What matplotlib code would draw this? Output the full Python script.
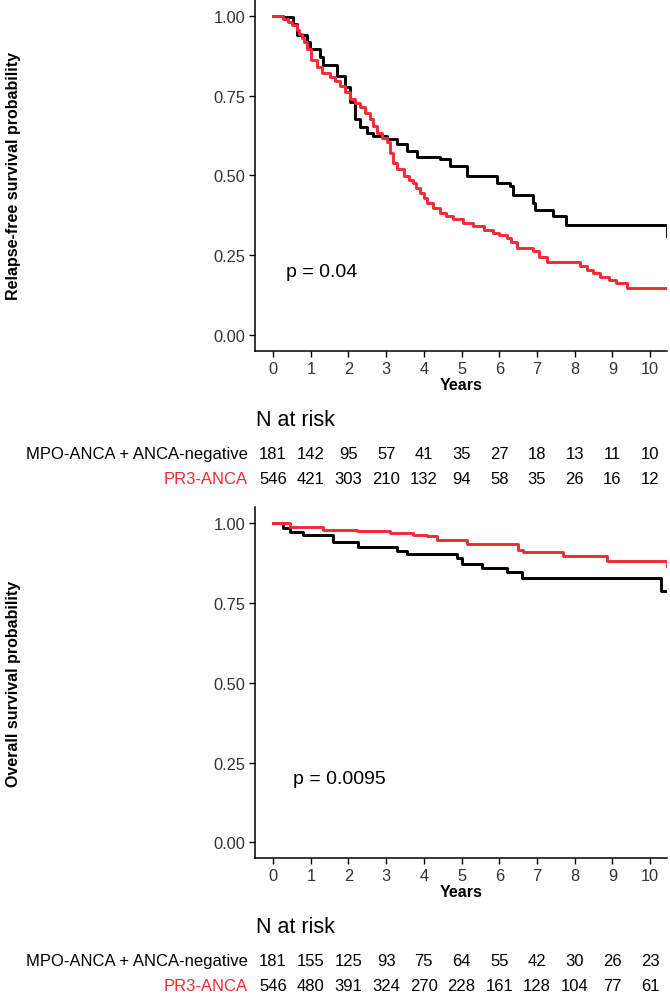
import matplotlib
matplotlib.use("Agg")
import matplotlib.pyplot as plt
import matplotlib.transforms as mtransforms

plt.rcParams['font.family'] = ['Liberation Sans', 'DejaVu Sans']

RED = '#F52A35'

# relapse-free survival
rfs_mpo_t = [0, 0.27, 0.54, 0.63, 0.89, 0.98, 1.25, 1.33, 1.69, 1.91, 2.04, 2.18, 2.31, 2.49,
             2.66, 3.02, 3.28, 3.55, 3.81, 4.43, 4.69, 5.14, 5.93, 6.29, 6.37, 6.9, 6.95,
             7.43, 7.77, 10.44]
rfs_mpo_s = [1.0, 0.995, 0.975, 0.94, 0.917, 0.896, 0.87, 0.844, 0.812, 0.776, 0.729, 0.676,
             0.65, 0.634, 0.624, 0.613, 0.597, 0.576, 0.556, 0.55, 0.529, 0.498, 0.477, 0.467,
             0.44, 0.414, 0.393, 0.372, 0.346, 0.309]
rfs_pr3_t = [0, 0.27, 0.4, 0.5, 0.63, 0.7, 0.76, 0.82, 0.89, 1.0, 1.16, 1.3, 1.51, 1.65, 1.78,
             1.9, 2.04, 2.18, 2.31, 2.45, 2.57, 2.66, 2.75, 2.9, 3.02, 3.1, 3.19, 3.3, 3.46,
             3.6, 3.72, 3.8, 3.9, 4.0, 4.08, 4.25, 4.43, 4.6, 4.78, 5.05, 5.31, 5.6, 5.84,
             6.0, 6.2, 6.3, 6.46, 6.9, 7.05, 7.26, 7.97, 8.15, 8.32, 8.5, 8.67, 8.9, 9.11,
             9.38, 10.44]
rfs_pr3_s = [1.0, 0.99, 0.98, 0.97, 0.955, 0.943, 0.93, 0.917, 0.895, 0.86, 0.838, 0.822,
             0.807, 0.795, 0.78, 0.76, 0.739, 0.727, 0.713, 0.695, 0.676, 0.655, 0.634, 0.618,
             0.603, 0.57, 0.54, 0.52, 0.498, 0.487, 0.477, 0.46, 0.446, 0.43, 0.414, 0.398,
             0.383, 0.372, 0.362, 0.352, 0.341, 0.33, 0.32, 0.312, 0.304, 0.29, 0.273, 0.262,
             0.245, 0.23, 0.23, 0.215, 0.204, 0.193, 0.183, 0.172, 0.162, 0.147, 0.147]

# overall survival
os_mpo_t = [0, 0.27, 0.45, 0.8, 1.6, 2.26, 3.28, 3.55, 4.87, 5.0, 5.53, 6.2, 6.6, 10.28, 10.45]
os_mpo_s = [1.0, 0.984, 0.974, 0.962, 0.943, 0.925, 0.912, 0.903, 0.89, 0.874, 0.861, 0.846,
            0.83, 0.788, 0.788]
os_pr3_t = [0, 0.45, 1.33, 2.22, 3.1, 3.72, 4.08, 4.34, 5.14, 6.51, 6.64, 7.7, 8.85, 10.44]
os_pr3_s = [1.0, 0.99, 0.98, 0.975, 0.969, 0.964, 0.959, 0.949, 0.935, 0.917, 0.91, 0.897,
            0.881, 0.865]

years = list(range(11))
groups = ['MPO-ANCA + ANCA-negative', 'PR3-ANCA']
rfs_risk_mpo = [181, 142, 95, 57, 41, 35, 27, 18, 13, 11, 10]
rfs_risk_pr3 = [546, 421, 303, 210, 132, 94, 58, 35, 26, 16, 12]
os_risk_mpo = [181, 155, 125, 93, 75, 64, 55, 42, 30, 26, 23]
os_risk_pr3 = [546, 480, 391, 324, 270, 228, 161, 128, 104, 77, 61]

fig = plt.figure(figsize=(6.7, 9.95), dpi=100)
W, H = 670, 995


def panel(top_px, bottom_px, ylabel, mpo, pr3, ptext, px, risk, table_y):
    ax = fig.add_axes([255 / W, 1 - bottom_px / H, 412 / W, (bottom_px - top_px) / H])
    ax.plot(mpo[0], mpo[1], drawstyle='steps-post', color='black', lw=2.1)
    ax.plot(pr3[0], pr3[1], drawstyle='steps-post', color=RED, lw=2.1)
    ax.set_xlim(-0.48, 10.45)
    ax.set_ylim(-0.05, 1.05)
    ax.set_xticks(years)
    ax.set_yticks([0, 0.25, 0.5, 0.75, 1.0])
    ax.set_yticklabels(['0.00', '0.25', '0.50', '0.75', '1.00'])
    for s in ['top', 'right']:
        ax.spines[s].set_visible(False)
    for s in ['left', 'bottom']:
        ax.spines[s].set_linewidth(1.1)
    ax.tick_params(labelsize=11.8, labelcolor='#333333', length=4.5, width=1, pad=2.5)
    ax.set_xlabel('Years', fontsize=11.5, fontweight='bold', labelpad=1)
    ax.set_ylabel(ylabel, fontsize=11.5, fontweight='bold')
    ax.yaxis.set_label_coords(-0.568, 0.5)
    ax.text(px, 0.2, ptext, fontsize=14, va='center', ha='left')

    tr = mtransforms.blended_transform_factory(ax.transData, fig.transFigure)
    fig.text(256 / W, 1 - table_y[0] / H, 'N at risk', fontsize=15.5, va='center', ha='left')
    for lab, col, row, y in zip(groups, ['black', RED], risk, table_y[1:]):
        fig.text(248 / W, 1 - y / H, lab, fontsize=12, color=col, va='center', ha='right')
        for x, n in zip(years, row):
            ax.text(x, 1 - y / H, str(n), transform=tr, fontsize=12, va='center',
                    ha='center')
    return ax


panel(0.7, 352, 'Relapse-free survival probability', (rfs_mpo_t, rfs_mpo_s),
      (rfs_pr3_t, rfs_pr3_s), 'p = 0.04', 0.34, [rfs_risk_mpo, rfs_risk_pr3],
      [420, 455, 479])
panel(508.4, 859.3, 'Overall survival probability', (os_mpo_t, os_mpo_s),
      (os_pr3_t, os_pr3_s), 'p = 0.0095', 0.53, [os_risk_mpo, os_risk_pr3],
      [928, 962, 987])

fig.savefig('out.png', dpi=100)
